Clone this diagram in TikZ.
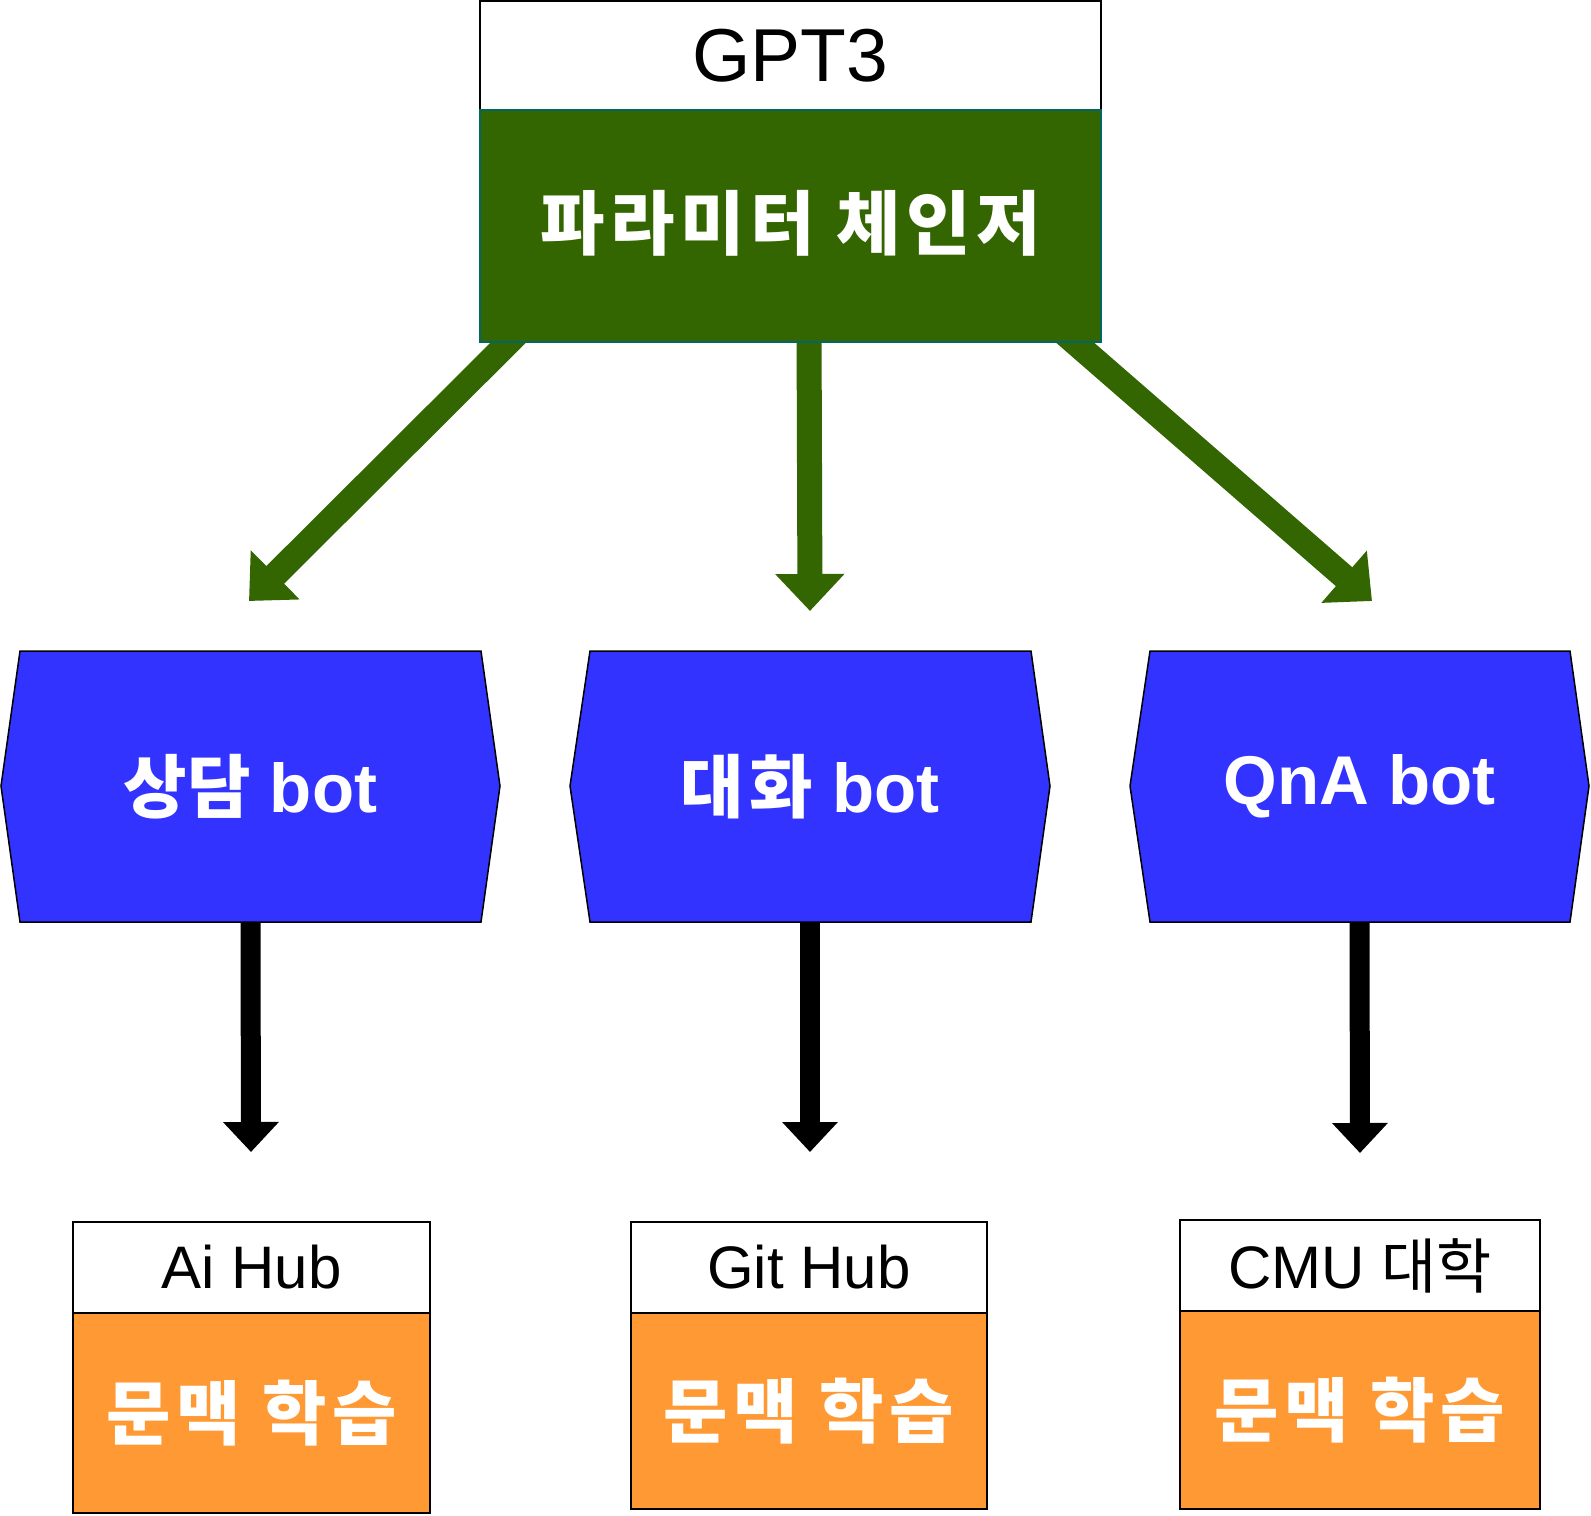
\documentclass[tikz,border=0pt]{standalone}
\usepackage{fontspec}
\setmainfont{Liberation Sans}
\newfontfamily\kr{Noto Sans CJK KR}
\newfontfamily\krwide{Noto Sans CJK KR}[LetterSpace=8]
\usetikzlibrary{arrows.meta}
\definecolor{gptgreen}{HTML}{336600}
\definecolor{tealedge}{HTML}{006666}
\definecolor{botblue}{HTML}{3333FF}
\definecolor{ctxorange}{HTML}{FF9933}
\begin{document}
\begin{tikzpicture}[x=1pt,y=-1pt,
  thinbox/.style={draw=black, line width=1.5pt, inner sep=0pt, rectangle},
  headtext/.style={thinbox, fill=white, text=black, font=\fontsize{60}{64}\selectfont},
  ctxbox/.style={thinbox, fill=ctxorange, text=white, font=\krwide\bfseries\fontsize{70}{74}\selectfont},
  hexshape/.style={fill=botblue, draw=black, line width=1.5pt, line join=miter},
  bottext/.style={inner sep=0pt, text=white, font=\bfseries\fontsize{69}{72}\selectfont},
  garrow/.style={draw=gptgreen, line width=25pt, -{Triangle[length=37pt,width=67pt]}},
  karrow/.style={draw=black, line width=20pt, -{Triangle[length=30pt,width=54pt]}}
]
\useasboundingbox (0,0) rectangle (1591,1516);

% green arrows
\coordinate (s1) at (531,320); \coordinate (t1) at (249,601);
\coordinate (s2) at (809,320); \coordinate (t2) at (810,611);
\coordinate (s3) at (1049,320); \coordinate (t3) at (1372,601);
\draw[garrow] (s1) -- (t1);
\draw[garrow] (s2) -- (t2);
\draw[garrow] (s3) -- (t3);

% top box
\node[thinbox, fill=white, minimum width=621pt, minimum height=109pt,
      font=\fontsize{75}{80}\selectfont] (gpt) at (790.5,55.5) {GPT3};
\node[draw=tealedge, line width=2pt, fill=gptgreen, inner sep=0pt,
      minimum width=621pt, minimum height=232pt] (pc) at (790.5,226) {};
\node[text=white, inner sep=0pt, font=\krwide\bfseries\fontsize{70}{74}\selectfont]
      (pctext) at (790.5,223) {파라미터 체인저};

% hexagons
\path[hexshape] (1,786) -- (20,651) -- (481,651) -- (500,786) -- (481,922) -- (20,922) -- cycle;
\node[bottext, minimum width=499pt, minimum height=271pt] (h1) at (250.5,786.5) {{\kr 상담} bot};
\path[hexshape] (570,786) -- (590,651) -- (1031,651) -- (1050,786) -- (1031,922) -- (590,922) -- cycle;
\node[bottext, minimum width=480pt, minimum height=271pt] (h2) at (810,786.5) {{\krwide 대화} bot};
\path[hexshape] (1130,786) -- (1150,651) -- (1570,651) -- (1589,786) -- (1570,922) -- (1150,922) -- cycle;
\node[bottext, minimum width=459pt, minimum height=271pt] (h3) at (1359.5,786.5) {QnA bot};

% black arrows
\coordinate (t4) at (251,1152);
\coordinate (t5) at (810,1152);
\coordinate (t6) at (1360,1153);
\draw[karrow] (h1.south) -- (t4);
\draw[karrow] (h2.south) -- (t5);
\draw[karrow] (h3.south) -- (t6);

% bottom boxes
\node[headtext, minimum width=357pt, minimum height=91pt] (a1) at (251.5,1267.5) {Ai Hub};
\node[ctxbox, minimum width=357pt, minimum height=200pt] (o1) at (251.5,1413) {문맥 학습};
\node[headtext, minimum width=356pt, minimum height=91pt] (a2) at (809,1267.5) {Git Hub};
\node[ctxbox, minimum width=356pt, minimum height=196pt] (o2) at (809,1411) {문맥 학습};
\node[headtext, minimum width=360pt, minimum height=91pt] (a3) at (1360,1265.5) {CMU {\kr 대학}};
\node[ctxbox, minimum width=360pt, minimum height=198pt] (o3) at (1360,1410) {문맥 학습};
\end{tikzpicture}
\end{document}
